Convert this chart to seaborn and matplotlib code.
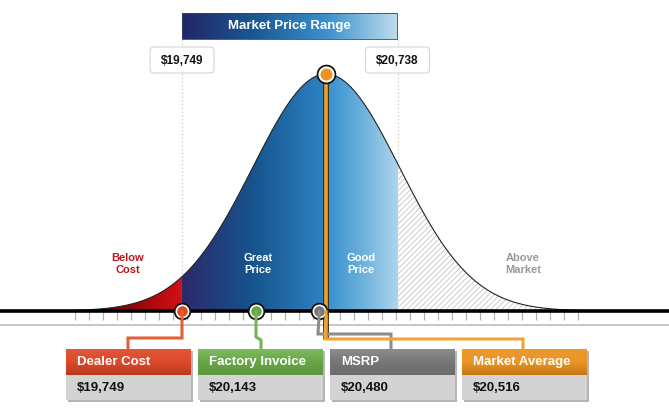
import numpy as np
import matplotlib
matplotlib.use("Agg")
import matplotlib.pyplot as plt
import seaborn as sns
import pandas as pd
from matplotlib.colors import LinearSegmentedColormap
from matplotlib.patches import Polygon, FancyBboxPatch, Rectangle

# data
point_labels = ["Dealer Cost", "Factory Invoice", "MSRP", "Market Average"]
point_prices = [19749, 20143, 20480, 20516]
point_colors = ["#dd4a2a", "#67a646", "#777777", "#eb9526"]
line_colors = ["#e0603a", "#7bb05a", "#8c8c8c", "#f0a431"]
range_labels = ["$19,749", "$20,738"]
range_bounds = [19749, 20900]          # where the range edges sit on the drawn axis
region_names = ["Below\nCost", "Great\nPrice", "Good\nPrice", "Above\nMarket"]
region_colors = ["#c0141c", "white", "white", "#9a9a9a"]
market_mean = 20516
market_sd = 390
curve_lo, curve_hi = 19180, 21856
n_ticks = 37

W, H = 669, 412
XMIN, XMAX = 18781, 22340
BASE_PX, PEAK_PX = 311, 74


def px(price):
    return (price - XMIN) / (XMAX - XMIN) * W


def hy(ypx):
    return (BASE_PX - ypx) / (BASE_PX - PEAK_PX)


def curve(x):
    return np.exp(-0.5 * ((x - market_mean) / market_sd) ** 2)


sns.set_theme(style="white")
plt.rcParams["font.family"] = ["Liberation Sans", "DejaVu Sans"]
plt.rcParams["hatch.linewidth"] = 0.6

fig = plt.figure(figsize=(W / 100, H / 100), dpi=100)
ax = fig.add_axes([0, 0, 1, 1])
ax.set_facecolor("white")
ax.set_axis_off()


def region(a, b, zorder=2):
    xs = np.linspace(a, b, 200)
    verts = [(a, 0)] + list(zip(xs, curve(xs))) + [(b, 0)]
    return Polygon(verts, closed=True, facecolor="none", edgecolor="none", zorder=zorder)


def grad_fill(a, b, colors):
    cmap = LinearSegmentedColormap.from_list("g", colors)
    poly = region(a, b)
    ax.add_patch(poly)
    im = ax.imshow(np.linspace(0, 1, 256)[None, :], cmap=cmap, aspect="auto",
                   extent=(a, b, 0, 1.01), origin="lower", zorder=2,
                   interpolation="bilinear")
    im.set_clip_path(poly)


# dotted range guides
for b in range_bounds:
    ax.plot([b, b], [0, hy(39)], color="#c8c8c8", lw=0.9, ls=(0, (1, 2)), zorder=1)

# colored areas under the curve
grad_fill(curve_lo, range_bounds[0], ["#3a0000", "#8a0606", "#d41018"])
grad_fill(range_bounds[0], market_mean, ["#2d2969", "#16558f", "#2f84c4"])
grad_fill(market_mean, range_bounds[1], ["#3590ce", "#6cb0dc", "#b0d6ec"])
xs = np.linspace(range_bounds[1], curve_hi, 200)
ax.fill_between(xs, 0, curve(xs), facecolor="white", edgecolor="#c4c4c4",
                hatch="//////", lw=0, zorder=2)

# outline of the curve
xs = np.linspace(curve_lo, curve_hi, 600)
sns.lineplot(x=xs, y=curve(xs), color="#222222", lw=0.8, ax=ax, zorder=3)

# axis line, ticks and the gray rule below
ax.plot([XMIN, XMAX], [0, 0], color="black", lw=2.6, zorder=4, solid_capstyle="butt")
ax.plot([XMIN, XMAX], [hy(325), hy(325)], color="#bdbdbd", lw=1.2, zorder=1)
ticks = np.linspace(curve_lo, curve_hi, n_ticks)
ax.vlines(ticks, hy(320), 0, color="#b0b0b0", lw=0.9, zorder=3)

# region labels
for name, col, xc in zip(region_names, region_colors, [128, 258, 361, 523]):
    ax.text(XMIN + xc / W * (XMAX - XMIN), hy(264), name, color=col, fontsize=8,
            fontweight="bold", ha="center", va="center", linespacing=1.25, zorder=5)

# connectors from the axis down to the info boxes
box_x = [66, 198, 330, 462]
box_w = 125
conn_paths = [
    [(182, 311), (182, 338), (128, 338), (128, 349)],
    [(256, 311), (256, 337), (261, 340), (261, 349)],
    [(318, 311), (318, 334), (391, 334), (391, 349)],
    [(325, 311), (325, 339), (523, 339), (523, 349)],
]
ov = fig.add_axes([0, 0, 1, 1], facecolor="none")
ov.set_xlim(0, W)
ov.set_ylim(H, 0)
ov.set_axis_off()
for path, price, col in zip(conn_paths, point_prices, line_colors):
    xp = [px(price)] + [p[0] for p in path[1:]]
    yp = [p[1] for p in path]
    ov.plot(xp, yp, color=col, lw=2.2, zorder=2, solid_joinstyle="miter")

# market average stem up to the peak
ax.plot([market_mean, market_mean], [hy(339), 1.0], color="#3a2a10", lw=4.2, zorder=6,
        solid_capstyle="butt")
ax.plot([market_mean, market_mean], [hy(339), 1.0], color="#f0a030", lw=2.6, zorder=7,
        solid_capstyle="butt")

# markers on the axis
marks = pd.DataFrame({"price": point_prices[:3], "y": [0, 0, 0]})
for size, col in [(160, "#111111"), (100, "white")]:
    sns.scatterplot(data=marks, x="price", y="y", s=size, color=col, linewidth=0,
                    ax=ax, zorder=8)
for price, col in zip(point_prices[:3], point_colors[:3]):
    ax.scatter([price], [0], s=58, color=col, linewidth=0, zorder=9)
for size, col in [(200, "#111111"), (135, "white"), (75, point_colors[3])]:
    ax.scatter([market_mean], [1.0], s=size, color=col, linewidth=0, zorder=10)

ax.set_xlim(XMIN, XMAX)
ax.set_ylim(hy(H), hy(0))

# title band
tcmap = LinearSegmentedColormap.from_list("t", ["#232565", "#1a5894", "#3a8fcb", "#bcdcef"])
ov.imshow(np.linspace(0, 1, 256)[None, :], cmap=tcmap, aspect="auto",
          extent=(182, 397, 39, 13), zorder=3, interpolation="bilinear")
ov.add_patch(Rectangle((182, 13), 215, 26, fill=False, edgecolor="#2a4a70", lw=0.6, zorder=4))
ov.text(289.5, 26, "Market Price Range", color="white", fontsize=9.5, fontweight="bold",
        ha="center", va="center", zorder=5)

# range price tags
for lab, xc in zip(range_labels, [182, 397.5]):
    ov.add_patch(FancyBboxPatch((xc - 32, 47), 64, 26, boxstyle="round,pad=0,rounding_size=4",
                                facecolor="white", edgecolor="#d4d4d4", lw=0.8, zorder=3))
    ov.text(xc, 60.5, lab, fontsize=8.5, fontweight="bold", color="#111111",
            ha="center", va="center", zorder=4)

# info boxes
for lab, price, col, x0 in zip(point_labels, point_prices, point_colors, box_x):
    ov.add_patch(Rectangle((x0 + 2, 351), box_w, 51, facecolor="#b5b5b5", lw=0, zorder=3))
    hcmap = LinearSegmentedColormap.from_list("h", [sns.set_hls_values(col, l=0.55), col,
                                                    sns.set_hls_values(col, l=0.42)])
    ov.imshow(np.linspace(0, 1, 64)[:, None], cmap=hcmap, aspect="auto",
              extent=(x0, x0 + box_w, 375, 349), zorder=4, interpolation="bilinear")
    ov.add_patch(Rectangle((x0, 375), box_w, 25, facecolor="#d3d3d3", lw=0, zorder=4))
    ov.text(x0 + 11, 362, lab, color="white", fontsize=9.5, fontweight="bold",
            ha="left", va="center", zorder=5)
    ov.text(x0 + 11, 388, f"${price:,}", color="#111111", fontsize=9.5, fontweight="bold",
            ha="left", va="center", zorder=5)

ov.set_xlim(0, W)
ov.set_ylim(H, 0)

fig.savefig("out.png", dpi=100)
